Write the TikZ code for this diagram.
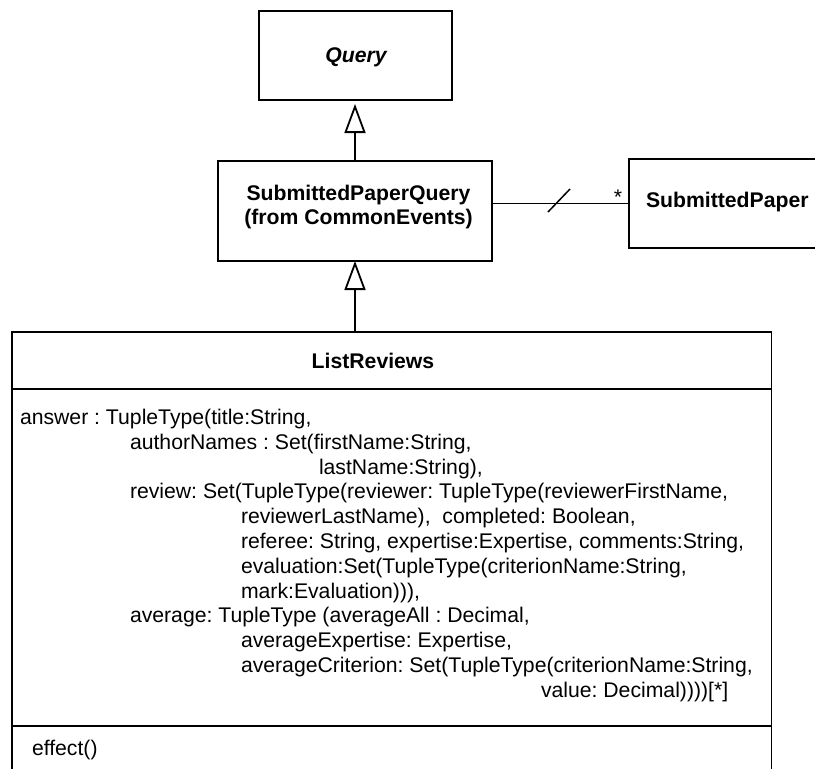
\documentclass[tikz,border=0pt]{standalone}
\usepackage{fontspec}
\setmainfont{Liberation Sans}
\usetikzlibrary{arrows.meta,calc}
\frenchspacing

\begin{document}
\begin{tikzpicture}[x=1pt,y=-1pt,
  every node/.style={inner sep=0pt,outer sep=0pt,
    font=\fontsize{21.2pt}{24.8pt}\selectfont},
  classbox/.style={draw,line width=1.8pt,rectangle},
  gen/.style={line width=1.8pt,
    -{Triangle[open,length=29pt,width=21pt,line width=1.8pt]}},
  assoc/.style={line width=1.8pt},
  attr/.style={anchor=base west},
  cname/.style={anchor=base,font=\fontsize{21.2pt}{24.8pt}\selectfont\bfseries}]

\useasboundingbox (0,0) rectangle (815,769);
\clip (0,0) rectangle (815,769);

% classes
\node[classbox,minimum width=193pt,minimum height=89pt] (query) at (355.5,55.5) {};
\node[classbox,minimum width=274pt,minimum height=100pt] (spq) at (355,211) {};
\node[classbox,minimum width=300pt,minimum height=89pt] (sp) at (779,203.5) {};
\node[classbox,minimum width=759.5pt,minimum height=468pt] (lr) at (391.75,566) {};

% class names
\node[cname,font=\fontsize{21.2pt}{24.8pt}\selectfont\bfseries\itshape] (qname) at (356,62.5) {Query};
\node[cname] (spqname1) at (358.5,200) {SubmittedPaperQuery};
\node[cname] (spqname2) at (358.5,224) {(from CommonEvents)};
\node[cname,anchor=base west] (spname) at (646,207) {SubmittedPaper};
\node[cname] (lrname) at (373,368.5) {ListReviews};

% compartments of ListReviews
\coordinate (d1) at (0,389);
\coordinate (d2) at (0,726);
\draw[line width=1.8pt] (lr.west |- d1) -- (lr.east |- d1);
\draw[line width=1.8pt] (lr.west |- d2) -- (lr.east |- d2);

% attributes
\node[attr] (a0)  at (20,424.5) {answer : TupleType(title:String,};
\node[attr] (a1)  at (130,449.3) {authorNames : Set(firstName:String,};
\node[attr] (a2)  at (319,474.1) {lastName:String),};
\node[attr] (a3)  at (130,498.9) {review: Set(TupleType(reviewer: TupleType(reviewerFirstName,};
\node[attr] (a4)  at (241,523.7) {reviewerLastName),~ completed: Boolean,};
\node[attr] (a5)  at (241,548.5) {referee: String, expertise:Expertise, comments:String,};
\node[attr] (a6)  at (241,573.3) {evaluation:Set(TupleType(criterionName:String,};
\node[attr] (a7)  at (241,598.1) {mark:Evaluation))),};
\node[attr] (a8)  at (130,622.9) {average: TupleType (averageAll : Decimal,};
\node[attr] (a9)  at (241,647.7) {averageExpertise: Expertise,};
\node[attr] (a10) at (241,672.5) {averageCriterion: Set(TupleType(criterionName:String,};
\node[attr] (a11) at (541,697.3) {value: Decimal))))[*]};

% operations
\node[attr] (op1) at (32,755) {effect()};

% generalizations
\draw[gen,shorten >=4pt] (spq.north) -- (spq.north |- query.south);
\draw[gen] (spq.south |- lr.north) -- (spq.south);

% association with multiplicity and navigability slash
\draw[assoc] (spq.east |- sp.west) coordinate (asA) -- (sp.west) coordinate (asB);
\draw[line width=1.5pt] (548,212) -- (570,189);
\node[anchor=base] (mult) at (618,204) {*};

\end{tikzpicture}
\end{document}
